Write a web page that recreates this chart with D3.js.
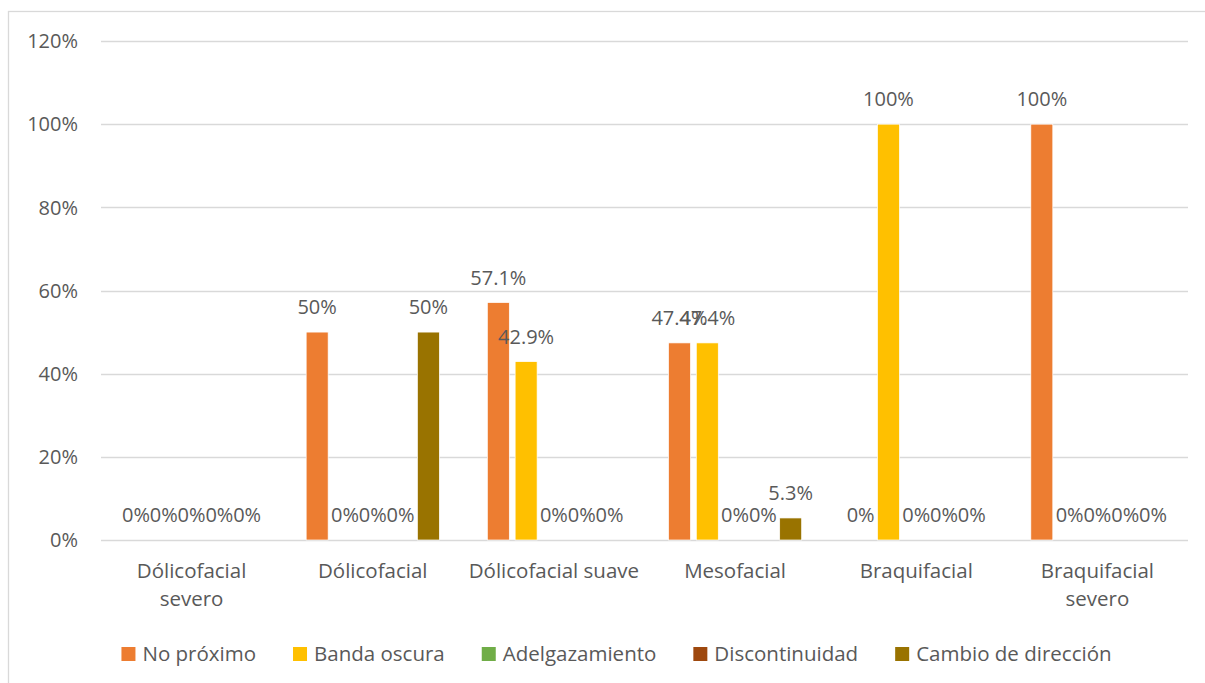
<!DOCTYPE html>
<html>
<head>
<meta charset="utf-8">
<script src="https://cdn.jsdelivr.net/npm/d3@7"></script>
<style>
  html, body { margin: 0; padding: 0; background: #fff; }
  svg { display: block; font-family: "Open Sans", "Noto Sans", sans-serif; }
</style>
</head>
<body>
<svg id="chart" width="1205" height="683"></svg>
<script>
// Facial types on the x axis
const categories = ["Dólicofacial severo", "Dólicofacial", "Dólicofacial suave", "Mesofacial", "Braquifacial", "Braquifacial severo"];
// Wrapped lines for the category labels
const categoryLines = [["Dólicofacial", "severo"], ["Dólicofacial"], ["Dólicofacial suave"], ["Mesofacial"], ["Braquifacial"], ["Braquifacial", "severo"]];

const seriesNames = ["No próximo", "Banda oscura", "Adelgazamiento", "Discontinuidad", "Cambio de dirección"];
const seriesColors = ["#ED7D31", "#FFC000", "#70AD47", "#9E480E", "#997300"];

// Percentages per series, one value per category
const noProximo      = [0, 50, 57.1, 47.4, 0, 100];
const bandaOscura    = [0, 0, 42.9, 47.4, 100, 0];
const adelgazamiento = [0, 0, 0, 0, 0, 0];
const discontinuidad = [0, 0, 0, 0, 0, 0];
const cambioDir      = [0, 50, 0, 5.3, 0, 0];
const seriesValues = [noProximo, bandaOscura, adelgazamiento, discontinuidad, cambioDir];

const yTicks = [0, 20, 40, 60, 80, 100, 120];

const svg = d3.select("#chart");
const plot = { left: 101, right: 1188, top: 41, bottom: 540 };
const textColor = "#595959";

// Chart frame
svg.append("rect")
  .attr("x", 8.5).attr("y", 11.5)
  .attr("width", 1400).attr("height", 900)
  .attr("fill", "none").attr("stroke", "#D9D9D9").attr("stroke-width", 1.3);

const x0 = d3.scaleBand().domain(categories).range([plot.left, plot.right]).padding(0);
const x1 = d3.scaleBand().domain(seriesNames).range([0, x0.bandwidth()])
  .paddingInner(0.209).paddingOuter(0.863);
const y = d3.scaleLinear().domain([0, 120]).range([plot.bottom, plot.top]);

// Horizontal gridlines
svg.append("g").selectAll("line").data(yTicks).join("line")
  .attr("x1", plot.left).attr("x2", plot.right)
  .attr("y1", d => Math.round(y(d)) + 0.5).attr("y2", d => Math.round(y(d)) + 0.5)
  .attr("stroke", "#D9D9D9").attr("stroke-width", 1.3);

// Y axis tick labels
svg.append("g").selectAll("text").data(yTicks).join("text")
  .attr("x", 78).attr("y", d => y(d) + 7.3)
  .attr("text-anchor", "end")
  .attr("font-size", 20).attr("fill", textColor)
  .text(d => d + "%");

// Bars
const rows = [];
categories.forEach((c, ci) => {
  seriesNames.forEach((s, si) => {
    rows.push({ cat: c, series: s, si, value: seriesValues[si][ci] });
  });
});

svg.append("g").selectAll("rect").data(rows.filter(d => d.value > 0)).join("rect")
  .attr("x", d => x0(d.cat) + x1(d.series))
  .attr("y", d => y(d.value))
  .attr("width", x1.bandwidth())
  .attr("height", d => y(0) - y(d.value))
  .attr("fill", d => seriesColors[d.si])
  .attr("stroke", "#fff").attr("stroke-width", 0.7);

// Value labels
const fmt = v => (Number.isInteger(v) ? v : v.toFixed(1)) + "%";
svg.append("g").selectAll("text").data(rows).join("text")
  .attr("x", d => x0(d.cat) + x1(d.series) + x1.bandwidth() / 2)
  .attr("y", d => y(d.value) - 18)
  .attr("text-anchor", "middle")
  .attr("font-size", 20).attr("fill", textColor)
  .text(d => fmt(d.value));

// Category labels
const catG = svg.append("g").selectAll("text").data(categories).join("text")
  .attr("x", d => x0(d) + x0.bandwidth() / 2)
  .attr("y", 577.5)
  .attr("text-anchor", "middle")
  .attr("font-size", 20.5).attr("fill", textColor);
catG.each(function(d, i) {
  d3.select(this).selectAll("tspan").data(categoryLines[i]).join("tspan")
    .attr("x", x0(d) + x0.bandwidth() / 2)
    .attr("dy", (t, j) => j === 0 ? 0 : 28.7)
    .text(t => t);
});

// Legend
const legend = svg.append("g");
const items = legend.selectAll("g").data(seriesNames).join("g");
items.append("rect")
  .attr("width", 14).attr("height", 14).attr("y", 647)
  .attr("fill", (d, i) => seriesColors[i]);
items.append("text")
  .attr("x", 21).attr("y", 661)
  .attr("font-size", 20.5).attr("fill", textColor)
  .text(d => d);
const gap = 37;
let cursor = 0;
const offsets = [];
items.each(function() {
  offsets.push(cursor);
  const w = d3.select(this).select("text").node().getComputedTextLength();
  cursor += 21 + w + gap;
});
const totalW = cursor - gap;
const startX = 616.5 - totalW / 2;
items.attr("transform", (d, i) => `translate(${startX + offsets[i]},0)`);
</script>
</body>
</html>
